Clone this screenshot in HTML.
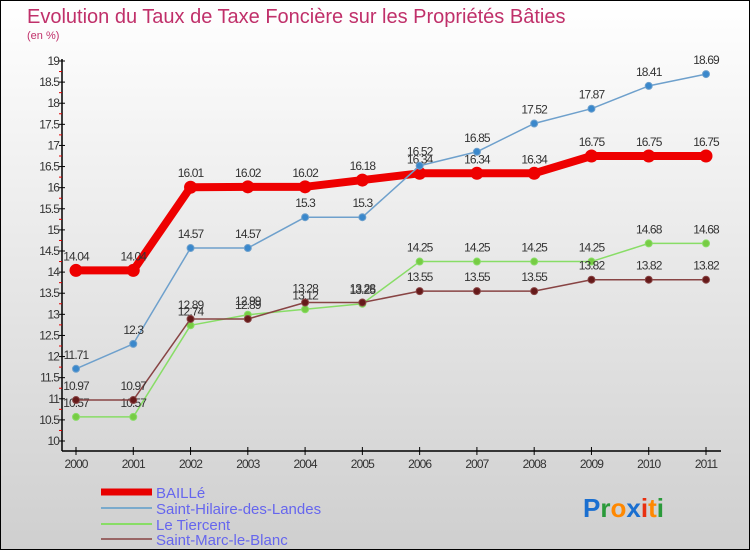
<!DOCTYPE html>
<html><head><meta charset="utf-8"><style>
body{margin:0;}
#c{width:748px;height:548px;border:1px solid #000;background:linear-gradient(#ffffff,#cfcfcf);position:relative;overflow:hidden;font-family:"Liberation Sans",sans-serif;}
</style></head><body>
<div id="c">
<svg id="s" width="748" height="548" xmlns="http://www.w3.org/2000/svg" style="position:absolute;left:0;top:0">
<text x="26" y="22" font-size="20" fill="#c0306a">Evolution du Taux de Taxe Foncière sur les Propriétés Bâties</text>
<text x="26" y="38" font-size="11" fill="#c0306a">(en %)</text>
<g id="axes"></g><g id="series"></g>
<g>
<line x1="100" y1="491" x2="151" y2="491" stroke="#e80000" stroke-width="7"/>
<text x="155" y="497" font-size="15" fill="#6666ee">BAILLé</text>
<line x1="100" y1="507" x2="151" y2="507" stroke="#7aaacc" stroke-width="2"/>
<text x="155" y="513" font-size="15" fill="#6666ee">Saint-Hilaire-des-Landes</text>
<line x1="100" y1="523" x2="151" y2="523" stroke="#88dd66" stroke-width="2"/>
<text x="155" y="529" font-size="15" fill="#6666ee">Le Tiercent</text>
<line x1="100" y1="538" x2="151" y2="538" stroke="#996666" stroke-width="2"/>
<text x="155" y="544" font-size="15" fill="#6666ee">Saint-Marc-le-Blanc</text>
</g>
<text x="582" y="516" font-size="26" font-weight="bold"><tspan fill="#1a6fd0">P</tspan><tspan fill="#2a9a3a">r</tspan><tspan fill="#ff8800">o</tspan><tspan fill="#1a6fd0">x</tspan><tspan fill="#e83010">i</tspan><tspan fill="#ff8800">t</tspan><tspan fill="#2a9a3a">i</tspan></text>
</svg>
</div>
<script>
const years=[2000,2001,2002,2003,2004,2005,2006,2007,2008,2009,2010,2011];
const yTicks=[10,10.5,11,11.5,12,12.5,13,13.5,14,14.5,15,15.5,16,16.5,17,17.5,18,18.5,19];
const bailleVals=[14.04,14.04,16.01,16.02,16.02,16.18,16.34,16.34,16.34,16.75,16.75,16.75];
const hilaireVals=[11.71,12.3,14.57,14.57,15.3,15.3,16.52,16.85,17.52,17.87,18.41,18.69];
const tiercentVals=[10.57,10.57,12.74,12.99,13.12,13.25,14.25,14.25,14.25,14.25,14.68,14.68];
const marcVals=[10.97,10.97,12.89,12.89,13.28,13.28,13.55,13.55,13.55,13.82,13.82,13.82];
const NS="http://www.w3.org/2000/svg";
function xs(i){return 75+i*(630/11);}
function ys(v){return 440-(v-10)*(380/9);}
function mk(t,a,p){const e=document.createElementNS(NS,t);for(const k in a)e.setAttribute(k,a[k]);p.appendChild(e);return e;}
const ax=document.getElementById('axes');
let e=mk('line',{x1:61,y1:ys(19)-2,x2:61,y2:450,stroke:'#000','stroke-width':1.5},ax);


e=mk('line',{x1:61,y1:450,x2:720,y2:450,stroke:'#000','stroke-width':1.5},ax);


yTicks.forEach((v,i)=>{const y=ys(v);
mk('line',{x1:58,y1:y,x2:64,y2:y,stroke:'#000'},ax);
if(i<yTicks.length-1)mk('line',{x1:58,y1:ys(v+0.25),x2:61,y2:ys(v+0.25),stroke:'#e00000'},ax);
const t=mk('text',{x:58,y:y+4,'font-size':12,'text-anchor':'end',fill:'#333','letter-spacing':'-0.9'},ax);t.textContent=v;

});
years.forEach((yr,i)=>{const x=xs(i);mk('line',{x1:x,y1:446,x2:x,y2:454,stroke:'#000'},ax);
const t=mk('text',{x:x,y:467,'font-size':12,'text-anchor':'middle',fill:'#333','letter-spacing':'-0.9'},ax);t.textContent=yr;

});
const sg=document.getElementById('series');
function draw(vals,name,col,w,r,dot){const g=mk('g',{},sg);


mk('polyline',{points:vals.map((v,i)=>xs(i)+','+ys(v)).join(' '),fill:'none',stroke:col,'stroke-width':w,'stroke-linejoin':'round'},g);
vals.forEach((v,i)=>{const c=mk('circle',{cx:xs(i),cy:ys(v),r:r,fill:dot,stroke:col,'stroke-width':1},g);


const t=mk('text',{x:xs(i),y:ys(v)-10,'font-size':12,'text-anchor':'middle',fill:'#333','letter-spacing':'-0.9'},g);t.textContent=v;

});}
draw(bailleVals,'baille','#ee0000',8,6,'#ee0000');
draw(hilaireVals,'saint-hilaire','#6ea0cc',1.5,3.5,'#3a88cc');
draw(tiercentVals,'le-tiercent','#88dd66',1.5,3.5,'#77cc44');
draw(marcVals,'saint-marc','#884444',1.5,3.5,'#661a1a');
</script>
</body></html>
